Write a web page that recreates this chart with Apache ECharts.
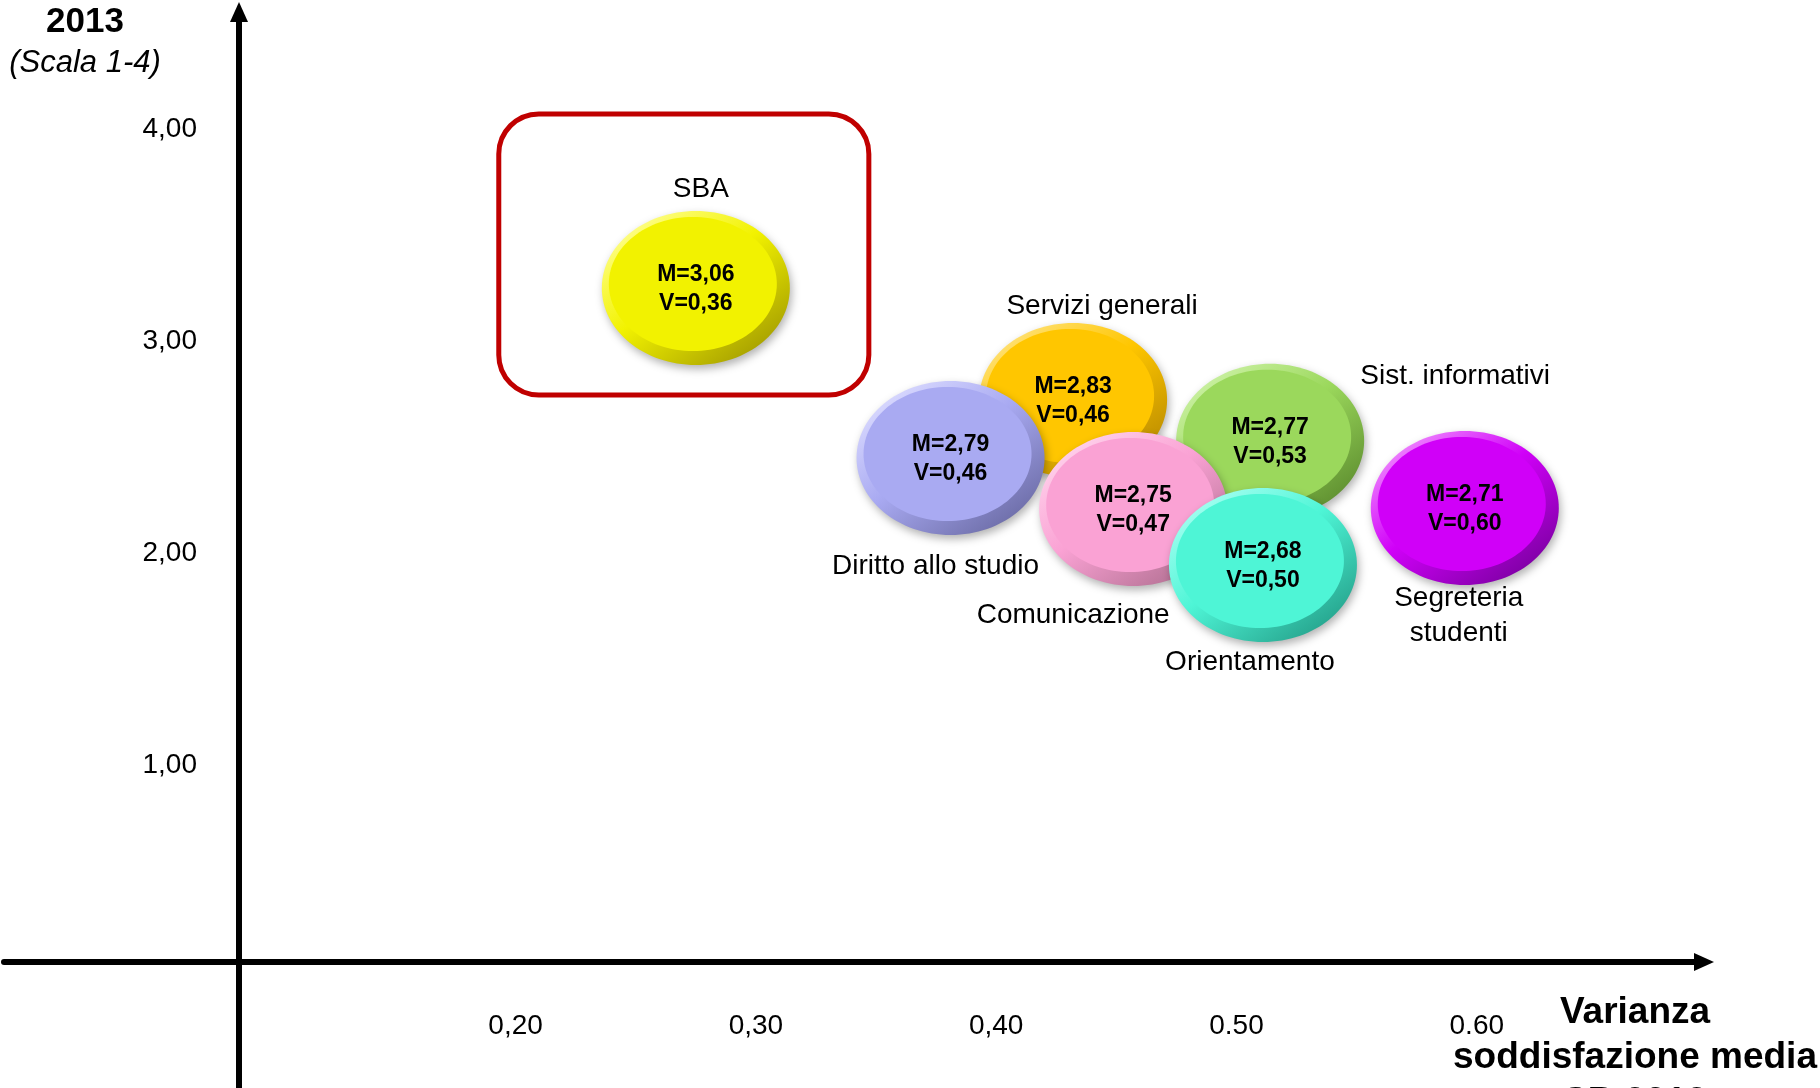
<!DOCTYPE html>
<html>
<head>
<meta charset="utf-8">
<script src="https://cdn.jsdelivr.net/npm/echarts@6/dist/echarts.min.js"></script>
<style>
html,body{margin:0;padding:0;background:#fff;}
#c{width:1820px;height:1088px;}
</style>
</head>
<body>
<div id="c"></div>
<script>
// ---- data ----
const categories = ['SBA', 'Servizi generali', 'Sist. informativi', 'Diritto allo studio', 'Comunicazione', 'Orientamento', 'Segreteria\nstudenti'];
const means = [3.06, 2.83, 2.77, 2.79, 2.75, 2.68, 2.71];
const variances = [0.36, 0.46, 0.53, 0.46, 0.47, 0.50, 0.60];
// where each bubble sits in the picture, in axis units
const plotX = [0.275, 0.432, 0.514, 0.381, 0.457, 0.511, 0.595];
const plotY = [3.252, 2.723, 2.530, 2.449, 2.209, 1.944, 2.213];
const xTickValues = [0.2, 0.3, 0.4, 0.5, 0.6];
const xTickLabels = ['0,20', '0,30', '0,40', '0.50', '0.60'];
const yTickValues = [1, 2, 3, 4];
const yTickLabels = ['1,00', '2,00', '3,00', '4,00'];
const highlightBox = [0.193, 2.747, 0.347, 4.073]; // x1, y1, x2, y2 around SBA

// ---- styles ----
const FONT = "'Liberation Sans', Arial, Helvetica, sans-serif";
const faceColors = ['#f2f200', '#ffc600', '#9bd85c', '#a9aaf2', '#faa2d4', '#4ef5d6', '#d000f8'];
const lightColors = ['#ffff90', '#ffe27a', '#cdf2a6', '#dcdcff', '#ffd3ec', '#a8fff2', '#f08cff'];
const darkColors = ['#a39c00', '#b88a00', '#5c8c2e', '#6a6aa4', '#b06e90', '#24a08a', '#7a00a0'];
const labelOffsets = [[5, -99], [29, -94], [185, -65], [-15, 108], [-60, 106], [-13, 97], [-6, 108]];

const fmt = v => v.toFixed(2).replace('.', ',');
const bubbleData = plotX.map((x, i) => [x, plotY[i], i]);

const XMIN = -0.0129, XMAX = 0.69455, YMIN = -0.524, YMAX = 4.554;

function pickLabel(values, labels, v) {
  for (let i = 0; i < values.length; i++) if (Math.abs(values[i] - v) < 1e-6) return labels[i];
  return '';
}

const chart = echarts.init(document.getElementById('c'), null, {renderer: 'canvas'});
chart.setOption({
  backgroundColor: '#ffffff',
  animation: false,
  textStyle: {fontFamily: FONT},
  title: [
    {
      text: '2013', subtext: '(Scala 1-4)',
      left: 85, top: 2, textAlign: 'center', padding: 0, itemGap: 4,
      textStyle: {fontSize: 35, fontWeight: 'bold', color: '#000', fontFamily: FONT, lineHeight: 40},
      subtextStyle: {fontSize: 31, fontStyle: 'italic', color: '#000', fontFamily: FONT, lineHeight: 34}
    },
    {
      text: 'Varianza\nsoddisfazione media\nSB 2013',
      left: 1635, top: 990, textAlign: 'center', padding: 0,
      textStyle: {fontSize: 37, fontWeight: 'bold', color: '#000', fontFamily: FONT, lineHeight: 45}
    }
  ],
  grid: {left: 4, right: 116, top: 12, bottom: 0, containLabel: false, outerBoundsMode: 'none'},
  xAxis: {
    type: 'value', min: XMIN, max: XMAX,
    position: 'bottom', offset: -126,
    axisLine: {show: true, onZero: false, symbol: ['none', 'triangle'], symbolSize: [18, 20],
      lineStyle: {color: '#000', width: 6}},
    axisTick: {show: false},
    splitLine: {show: false},
    axisLabel: {
      show: true,
      customValues: xTickValues,
      formatter: v => pickLabel(xTickValues, xTickLabels, v),
      margin: 50, fontSize: 28, color: '#000', fontFamily: FONT
    }
  },
  yAxis: {
    type: 'value', min: YMIN, max: YMAX, offset: -235,
    axisLine: {show: true, onZero: false, symbol: ['none', 'triangle'], symbolSize: [18, 20],
      lineStyle: {color: '#000', width: 6}},
    axisTick: {show: false},
    splitLine: {show: false},
    axisLabel: {
      customValues: yTickValues,
      formatter: v => pickLabel(yTickValues, yTickLabels, v),
      margin: 42, fontSize: 28, color: '#000', fontFamily: FONT
    }
  },
  series: [
    {
      type: 'custom',
      clip: false,
      data: [highlightBox],
      renderItem: (params, api) => {
        const tl = api.coord([api.value(0), api.value(3)]);
        const br = api.coord([api.value(2), api.value(1)]);
        return {
          type: 'rect',
          shape: {x: tl[0], y: tl[1], width: br[0] - tl[0], height: br[1] - tl[1], r: 40},
          style: {fill: 'none', stroke: '#c00000', lineWidth: 5}
        };
      }
    },
    {
      type: 'custom',
      clip: false,
      data: bubbleData,
      renderItem: (params, api) => {
        const i = api.value(2);
        const p = api.coord([api.value(0), api.value(1)]);
        const cx = p[0], cy = p[1];
        return {
          type: 'group',
          children: [
            {
              type: 'ellipse',
              shape: {cx: cx, cy: cy, rx: 94, ry: 77},
              style: {
                fill: {type: 'linear', x: 0.2, y: 0, x2: 0.8, y2: 1, colorStops: [
                  {offset: 0, color: lightColors[i]},
                  {offset: 0.45, color: faceColors[i]},
                  {offset: 1, color: darkColors[i]}
                ]},
                shadowBlur: 8, shadowColor: 'rgba(0,0,0,0.3)', shadowOffsetX: 2, shadowOffsetY: 4
              }
            },
            {
              type: 'ellipse',
              shape: {cx: cx - 3, cy: cy - 4, rx: 84, ry: 67},
              style: {fill: faceColors[i]}
            },
            {
              type: 'text', z2: 100,
              x: cx, y: cy + 1,
              style: {
                text: 'M=' + fmt(means[i]) + '\nV=' + fmt(variances[i]),
                fill: '#000', fontSize: 23, fontWeight: 'bold', fontFamily: FONT,
                lineHeight: 29, align: 'center', verticalAlign: 'middle'
              }
            },
            {
              type: 'text', z2: 100,
              x: cx + labelOffsets[i][0], y: cy + labelOffsets[i][1],
              style: {
                text: categories[i],
                fill: '#000', fontSize: 28, fontFamily: FONT,
                lineHeight: 35, align: 'center', verticalAlign: 'middle'
              }
            }
          ]
        };
      }
    }
  ]
});
</script>
</body>
</html>
